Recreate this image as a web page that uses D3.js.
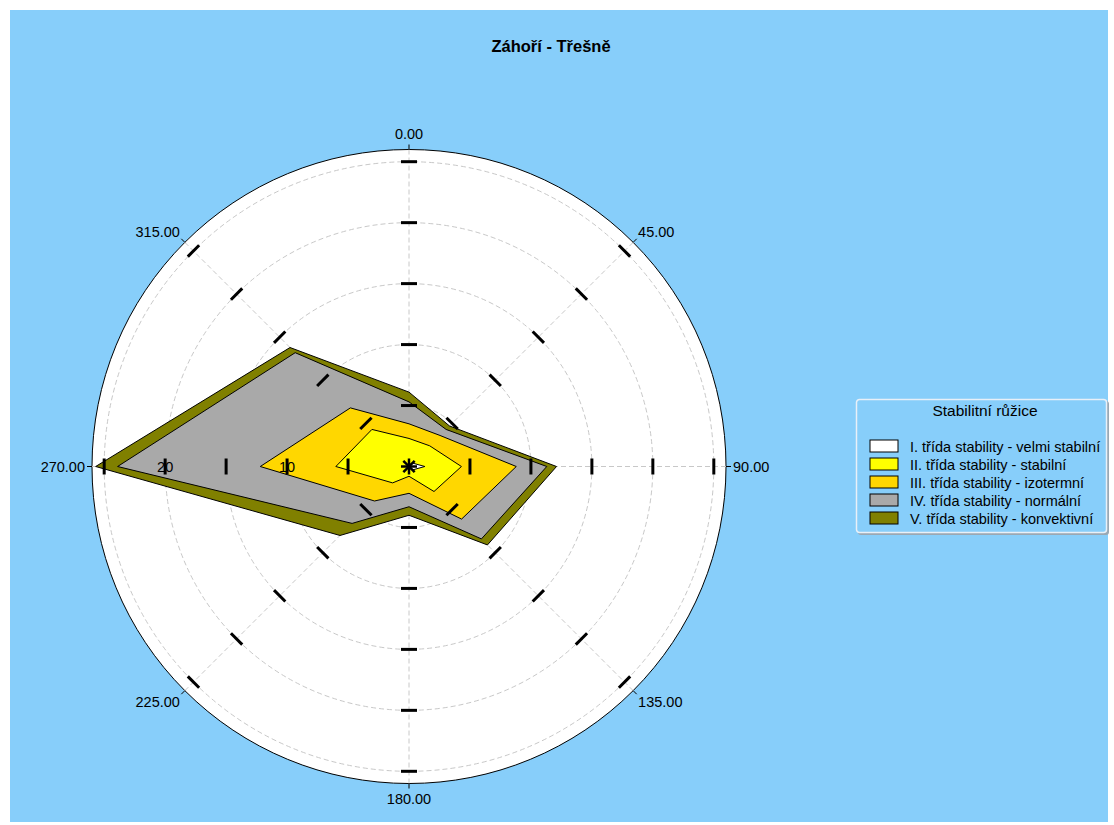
<!DOCTYPE html>
<html>
<head>
<meta charset="utf-8">
<script src="https://cdn.jsdelivr.net/npm/d3@7"></script>
<style>
  body { margin: 0; background: #ffffff; }
  svg text { font-family: "Liberation Sans", Arial, sans-serif; }
</style>
</head>
<body>
<div id="rose"></div>
<script>
// stabilitni ruzice - smery po 45 stupnich
var directions = [0, 45, 90, 135, 180, 225, 270, 315];
var directionLabels = ["0.00", "45.00", "90.00", "135.00", "180.00", "225.00", "270.00", "315.00"];

// cetnosti jednotlivych trid stability (v %), poradi dle directions
var classI   = [0.1, 0.4, 1.3, 0.4, 0.1, 0.1, 0.1, 0.1];
var classII  = [2.2, 2.0, 3.0, 2.5, 0.7, 1.8, 5.9, 4.2];
var classIII = [1.2, 1.2, 4.5, 3.2, 1.4, 2.1, 6.2, 2.5];
var classIV  = [1.8, 0.7, 2.5, 2.3, 1.1, 2.6, 11.7, 6.4];
var classV   = [0.8, 0.4, 0.8, 0.7, 0.7, 1.4, 1.8, 0.6];

var classNames = [
  "I. třída stability - velmi stabilní",
  "II. třída stability - stabilní",
  "III. třída stability - izotermní",
  "IV. třída stability - normální",
  "V. třída stability - konvektivní"
];
var classColors = ["#ffffff", "#ffff00", "#ffd700", "#a9a9a9", "#808000"];

var radialTicks = [5, 10, 15, 20, 25];
var radialLabels = [10, 20];
var chartTitle = "Záhoří - Třešně";

(function () {
  'use strict';

  var width = 1114, height = 825;
  var cx = 409, cy = 466.5;
  var rMax = 26;

  var svg = d3.select("#rose").append("svg")
    .attr("width", width)
    .attr("height", height);

  svg.append("rect")
    .attr("x", 10).attr("y", 10)
    .attr("width", 1098).attr("height", 812)
    .attr("fill", "#87cefa");

  svg.append("text")
    .attr("x", 551).attr("y", 52)
    .attr("text-anchor", "middle")
    .style("font-size", "16.5px")
    .style("font-weight", "bold")
    .text(chartTitle);

  var r = d3.scaleLinear().domain([0, rMax]).range([0, 317]);
  var rad = function (deg) { return deg * Math.PI / 180; };
  var px = function (deg, v) { return Math.sin(rad(deg)) * r(v); };
  var py = function (deg, v) { return -Math.cos(rad(deg)) * r(v); };

  var g = svg.append("g").attr("transform", "translate(" + cx + "," + cy + ")");

  g.append("circle")
    .attr("r", r(rMax))
    .attr("fill", "#ffffff")
    .attr("stroke", "#000000")
    .attr("stroke-width", 1);

  // mrizka
  g.selectAll(".gridCircle")
    .data(radialTicks)
    .enter().append("circle")
    .attr("class", "gridCircle")
    .attr("r", function (d) { return r(d); })
    .attr("fill", "none")
    .attr("stroke", "#c8c8c8")
    .attr("stroke-dasharray", "5,3");

  g.selectAll(".gridSpoke")
    .data(directions)
    .enter().append("line")
    .attr("class", "gridSpoke")
    .attr("x1", 0).attr("y1", 0)
    .attr("x2", function (d) { return px(d, rMax); })
    .attr("y2", function (d) { return py(d, rMax); })
    .attr("stroke", "#c8c8c8")
    .attr("stroke-dasharray", "5,3");

  // kumulativni polygony
  var series = [classI, classII, classIII, classIV, classV];
  var cumulative = [];
  series.forEach(function (s, i) {
    cumulative.push(s.map(function (v, j) {
      return i === 0 ? v : cumulative[i - 1][j] + v;
    }));
  });

  var line = d3.lineRadial()
    .angle(function (d, j) { return rad(directions[j]); })
    .radius(function (d) { return r(d); })
    .curve(d3.curveLinearClosed);

  g.selectAll(".layer")
    .data(cumulative.slice().reverse())
    .enter().append("path")
    .attr("class", "layer")
    .attr("d", line)
    .attr("fill", function (d, i) { return classColors[classColors.length - 1 - i]; })
    .attr("stroke", "#000000")
    .attr("stroke-width", 1);

  // znacky na osach
  directions.forEach(function (dir) {
    g.selectAll(null)
      .data(radialTicks)
      .enter().append("line")
      .attr("x1", -8).attr("x2", 8)
      .attr("y1", 0).attr("y2", 0)
      .attr("transform", function (d) {
        return "translate(" + px(dir, d) + "," + py(dir, d) + ") rotate(" + dir + ")";
      })
      .attr("stroke", "#000000")
      .attr("stroke-width", 3);
  });

  g.selectAll(".rLabel")
    .data(radialLabels)
    .enter().append("text")
    .attr("class", "rLabel")
    .attr("x", function (d) { return px(270, d); })
    .attr("y", 0)
    .attr("dy", "0.35em")
    .attr("text-anchor", "middle")
    .style("font-size", "14.5px")
    .text(function (d) { return d; });

  // stred
  g.selectAll(".star")
    .data([0, 45, 90, 135])
    .enter().append("line")
    .attr("class", "star")
    .attr("x1", function (d) { return -Math.sin(rad(d)) * 8; })
    .attr("y1", function (d) { return Math.cos(rad(d)) * 8; })
    .attr("x2", function (d) { return Math.sin(rad(d)) * 8; })
    .attr("y2", function (d) { return -Math.cos(rad(d)) * 8; })
    .attr("stroke", "#000000")
    .attr("stroke-width", 2.5);

  // popisky smeru
  g.selectAll(".outerTick")
    .data(directions)
    .enter().append("line")
    .attr("class", "outerTick")
    .attr("x1", function (d) { return px(d, rMax); })
    .attr("y1", function (d) { return py(d, rMax); })
    .attr("x2", function (d) { return px(d, rMax) + Math.sin(rad(d)) * 5; })
    .attr("y2", function (d) { return py(d, rMax) - Math.cos(rad(d)) * 5; })
    .attr("stroke", "#000000");

  g.selectAll(".dirLabel")
    .data(directions)
    .enter().append("text")
    .attr("class", "dirLabel")
    .attr("x", function (d) { return Math.sin(rad(d)) * 324; })
    .attr("y", function (d) { return -Math.cos(rad(d)) * 324; })
    .attr("text-anchor", function (d) {
      var s = Math.sin(rad(d));
      return s > 0.01 ? "start" : (s < -0.01 ? "end" : "middle");
    })
    .attr("dy", function (d) {
      var c = Math.cos(rad(d));
      if (Math.abs(c) < 0.01) return "0.35em";
      if (c > 0.99) return "-0.25em";
      if (c < -0.99) return "0.95em";
      return c > 0 ? "0" : "0.8em";
    })
    .style("font-size", "14.5px")
    .text(function (d, i) { return directionLabels[i]; });

  // legenda
  var legend = svg.append("g").attr("transform", "translate(856,399)");
  legend.append("rect")
    .attr("x", 2).attr("y", 2)
    .attr("width", 251).attr("height", 134)
    .attr("rx", 3)
    .attr("fill", "#9aa8b4");
  legend.append("rect")
    .attr("x", 0.5).attr("y", 0.5)
    .attr("width", 250).attr("height", 133)
    .attr("rx", 3)
    .attr("fill", "#87cefa")
    .attr("stroke", "#e8f0f8")
    .attr("stroke-width", 1.5);
  legend.append("text")
    .attr("x", 129).attr("y", 17)
    .attr("text-anchor", "middle")
    .style("font-size", "15.5px")
    .text("Stabilitní růžice");

  var items = legend.selectAll(".legendItem")
    .data(classNames)
    .enter().append("g")
    .attr("class", "legendItem")
    .attr("transform", function (d, i) { return "translate(0," + (41 + i * 18) + ")"; });
  items.append("rect")
    .attr("x", 14).attr("y", 0)
    .attr("width", 28).attr("height", 12)
    .attr("fill", function (d, i) { return classColors[i]; })
    .attr("stroke", "#000000");
  items.append("text")
    .attr("x", 54).attr("y", 11.5)
    .style("font-size", "14.5px")
    .text(function (d) { return d; });
})();
</script>
</body>
</html>
